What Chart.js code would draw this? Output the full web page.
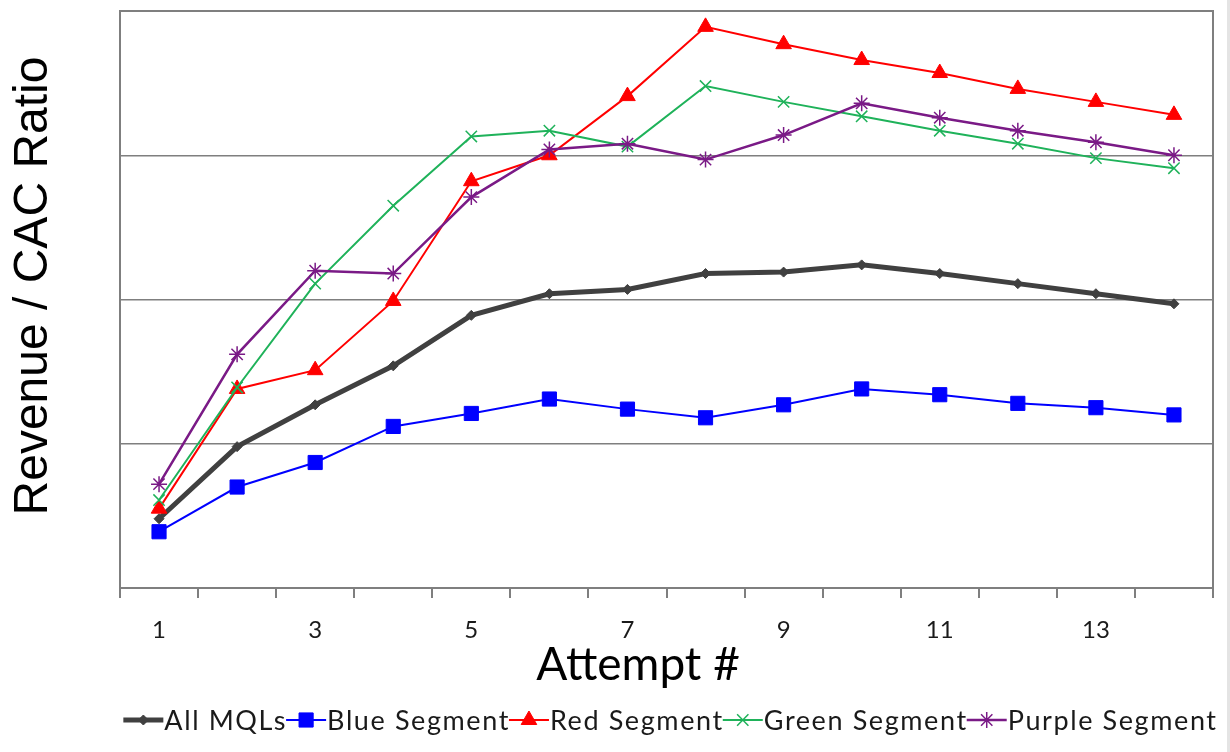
<!DOCTYPE html>
<html>
<head>
<meta charset="utf-8">
<script src="https://cdn.jsdelivr.net/npm/chart.js@4.4.1/dist/chart.umd.min.js"></script>
<style>
    body { margin: 0; background: #fff; }
    #wrap { width: 1230px; height: 752px; }
</style>
</head>
<body>
<div id="wrap"><canvas id="myChart" width="1230" height="752"></canvas></div>
<script>
const attempts = ['1', '2', '3', '4', '5', '6', '7', '8', '9', '10', '11', '12', '13', '14'];
const allMqls = [0.48, 0.98, 1.27, 1.54, 1.89, 2.04, 2.07, 2.18, 2.19, 2.24, 2.18, 2.11, 2.04, 1.97];
const blueSegment = [0.39, 0.70, 0.87, 1.12, 1.21, 1.31, 1.24, 1.18, 1.27, 1.38, 1.34, 1.28, 1.25, 1.20];
const redSegment = [0.55, 1.38, 1.51, 1.99, 2.82, 3.00, 3.41, 3.89, 3.77, 3.66, 3.57, 3.46, 3.37, 3.28];
const greenSegment = [0.61, 1.39, 2.11, 2.65, 3.13, 3.17, 3.06, 3.48, 3.37, 3.27, 3.17, 3.08, 2.98, 2.91];
const purpleSegment = [0.72, 1.62, 2.20, 2.18, 2.71, 3.04, 3.08, 2.97, 3.14, 3.36, 3.26, 3.17, 3.09, 3.00];
const seriesNames = ['All MQLs', 'Blue Segment', 'Red Segment', 'Green Segment', 'Purple Segment'];
const xTitle = 'Attempt #';
const yTitle = 'Revenue / CAC Ratio';

const gridGray = '#7f7f7f';

function series(label, data, color, width, style, radius, order) {
    return {
        label: label,
        data: data,
        borderColor: color,
        backgroundColor: color,
        borderWidth: width,
        pointStyle: style,
        pointRadius: radius,
        pointBackgroundColor: color,
        pointBorderColor: color,
        pointBorderWidth: style === 'crossRot' || style === 'star' ? 1.5 : 1,
        tension: 0,
        order: order
    };
}

// frame round the plot, axis titles placed like the Excel original, and a line + marker legend
const framePlugin = {
    id: 'frameAndLegend',
    beforeDatasetsDraw(chart) {
        const {ctx, chartArea: a} = chart;
        ctx.save();
        ctx.strokeStyle = gridGray;
        ctx.lineWidth = 2;
        ctx.strokeRect(a.left, a.top, a.right - a.left, a.bottom - a.top);
        ctx.fillStyle = '#e4e4e4';
        ctx.fillRect(chart.width - 3, 0, 3, chart.height);
        ctx.restore();
    },
    afterDraw(chart) {
        const ctx = chart.ctx;

        ctx.save();
        ctx.fillStyle = '#000';
        ctx.textAlign = 'center';
        ctx.textBaseline = 'middle';
        ctx.font = '46px Lato';
        ctx.fillText(xTitle, 638, 665);
        ctx.translate(34, 286);
        ctx.rotate(-Math.PI / 2);
        ctx.font = '48px "Liberation Sans"';
        ctx.fillText(yTitle, 0, 0);
        ctx.restore();

        const sample = 40;
        const y = 720;
        ctx.save();
        ctx.font = '27px Lato';
        ctx.letterSpacing = '1.6px';
        ctx.textBaseline = 'middle';
        const widths = chart.data.datasets.map(ds => ctx.measureText(ds.label).width);
        const total = widths.reduce((s, w) => s + w + sample, 0);
        let x = 670 - total / 2;
        chart.data.datasets.forEach((ds, i) => {
            ctx.strokeStyle = ds.borderColor;
            ctx.fillStyle = ds.borderColor;
            ctx.lineWidth = ds.borderWidth;
            ctx.beginPath();
            ctx.moveTo(x, y);
            ctx.lineTo(x + sample, y);
            ctx.stroke();
            ctx.lineWidth = ds.pointBorderWidth;
            Chart.helpers.drawPoint(ctx, {
                pointStyle: ds.pointStyle,
                radius: ds.pointRadius,
                rotation: 0,
                borderWidth: ds.pointBorderWidth
            }, x + sample / 2, y);
            ctx.fillStyle = '#1a1a1a';
            ctx.fillText(ds.label, x + sample + 1, y + 1);
            x += sample + widths[i];
        });
        ctx.restore();
    }
};

const ctx = document.getElementById('myChart').getContext('2d');
const myChart = new Chart(ctx, {
    type: 'line',
    data: {
        labels: attempts,
        datasets: [
            series(seriesNames[0], allMqls, '#404040', 5, 'rectRot', 5, 5),
            series(seriesNames[1], blueSegment, '#0000ff', 2, 'rect', 10, 4),
            series(seriesNames[2], redSegment, '#ff0000', 2, 'triangle', 9, 3),
            series(seriesNames[3], greenSegment, '#1fb25a', 2, 'crossRot', 8, 2),
            series(seriesNames[4], purpleSegment, '#7a1a86', 2.5, 'star', 8, 1)
        ]
    },
    plugins: [framePlugin],
    options: {
        responsive: false,
        animation: false,
        layout: {
            padding: {top: 1, right: 17, left: 0, bottom: 0}
        },
        plugins: {
            legend: {display: false},
            tooltip: {enabled: false}
        },
        scales: {
            x: {
                offset: true,
                afterFit: (scale) => { scale.height = 164; },
                grid: {
                    offset: true,
                    drawOnChartArea: false,
                    drawTicks: true,
                    tickLength: 10,
                    color: gridGray,
                    lineWidth: 2
                },
                border: {display: true, color: gridGray, width: 2},
                ticks: {
                    autoSkip: false,
                    maxRotation: 0,
                    padding: 18,
                    color: '#1a1a1a',
                    font: {family: 'Lato', size: 24},
                    callback: (v, i) => (i % 2 === 0 ? attempts[i] : '')
                }
            },
            y: {
                min: 0,
                max: 4,
                afterFit: (scale) => { scale.width = 120; },
                ticks: {display: false, stepSize: 1},
                grid: {
                    drawTicks: false,
                    color: gridGray,
                    lineWidth: 1.5
                },
                border: {display: true, color: gridGray, width: 2}
            }
        }
    }
});
</script>
</body>
</html>
